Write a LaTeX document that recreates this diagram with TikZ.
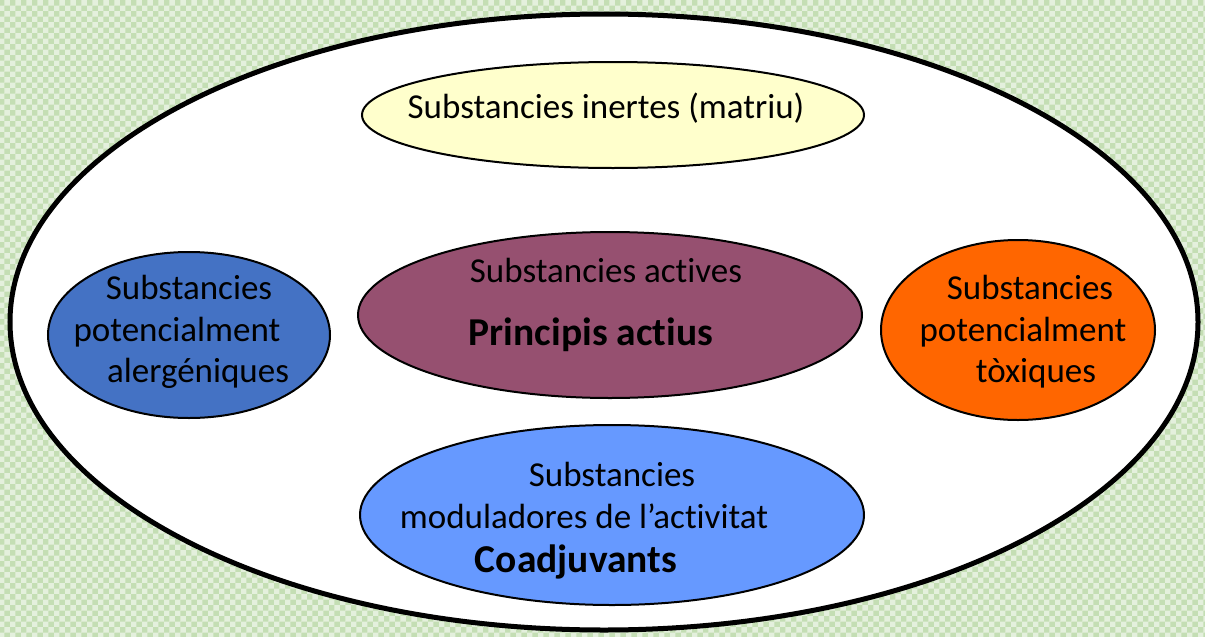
\documentclass[tikz,border=0pt]{standalone}
\usepackage{fontspec}
\setmainfont{Carlito}[Ligatures=NoCommon]
\usetikzlibrary{shapes.geometric,patterns}
\definecolor{bggreen}{RGB}{196,222,180}
\definecolor{yel}{RGB}{255,255,204}
\definecolor{purp}{RGB}{150,80,112}
\definecolor{blu}{RGB}{68,114,196}
\definecolor{orng}{RGB}{255,102,0}
\definecolor{lblu}{RGB}{102,153,255}
\tikzset{
  blob/.style={ellipse, draw=black, line width=2pt, inner sep=0pt},
  txt/.style={font=\fontsize{35}{40}\selectfont, inner sep=0pt, anchor=base},
  btxt/.style={font=\fontsize{39.5}{44}\selectfont\bfseries, inner sep=0pt, anchor=base}
}
\begin{document}
\begin{tikzpicture}[x=1pt,y=-1pt]
\fill[bggreen] (0,0) rectangle (1205,637);
\fill[pattern=checkerboard, pattern color=white, opacity=0.55] (0,0) rectangle (1205,637);
\useasboundingbox (0,0) rectangle (1205,637);
\node[ellipse, draw=black, fill=white, line width=5pt, inner sep=0pt, minimum width=1188pt, minimum height=616pt] (outer) at (604,322) {};
\node[blob, fill=yel, minimum width=502pt, minimum height=106pt] (inert) at (613,115) {};
\node[blob, fill=purp, minimum width=504pt, minimum height=166pt] (act) at (610,315) {};
\node[blob, fill=blu, minimum width=282pt, minimum height=166pt] (alerg) at (189,335) {};
\node[blob, fill=orng, minimum width=274pt, minimum height=180pt] (tox) at (1018,330) {};
\node[blob, fill=lblu, minimum width=504pt, minimum height=180pt] (mod) at (612,515) {};
% texts
\node[txt] (t1) at (606,118) {Substancies inertes (matriu)};
\node[txt] (t2) at (606,282) {Substancies actives};
\node[btxt] (t3) at (591,345) {Principis actius};
\node[txt] (t4) at (189,299) {Substancies};
\node[txt] (t5) at (177,341) {potencialment};
\node[txt] (t6) at (198,382) {alergéniques};
\node[txt] (t7) at (1030,299) {Substancies};
\node[txt] (t8) at (1023,341) {potencialment};
\node[txt] (t9) at (1036,382) {tòxiques};
\node[txt] (t10) at (612,486) {Substancies};
\node[txt] (t11) at (584,528) {moduladores de l’activitat};
\node[btxt] (t12) at (576,572) {Coadjuvants};
\end{tikzpicture}
\end{document}
